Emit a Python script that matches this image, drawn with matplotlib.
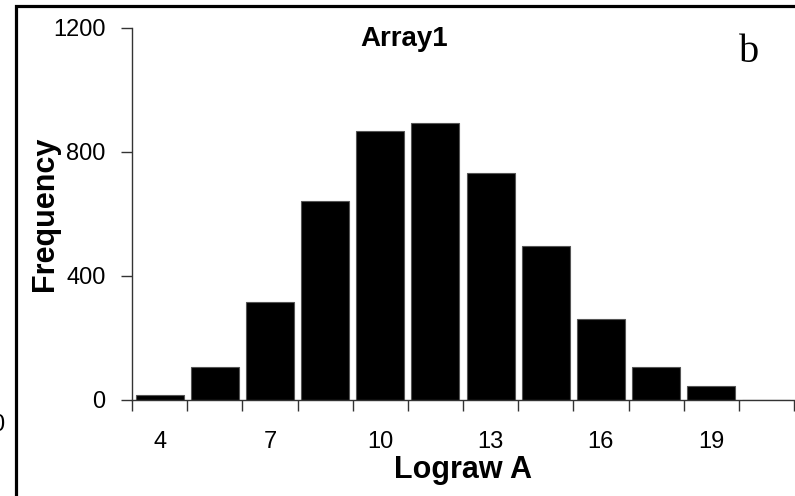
import matplotlib
matplotlib.use("Agg")
import matplotlib.pyplot as plt
from matplotlib.patches import Rectangle

categories = ["4", "5.5", "7", "8.5", "10", "11.5", "13", "14.5", "16", "17.5", "19", "20.5"]
frequency = [16, 107, 317, 643, 869, 895, 733, 497, 261, 107, 45, 0]
tick_labels = ["4", "", "7", "", "10", "", "13", "", "16", "", "19", ""]
yticks = [0, 400, 800, 1200]

plt.rcParams['font.family'] = ['Liberation Sans', 'DejaVu Sans']

W, H = 795, 496
fig = plt.figure(figsize=(W / 100, H / 100), dpi=100)
ax = fig.add_axes([132 / W, 1 - 400 / H, (794 - 132) / W, (400 - 28) / H])

x = list(range(len(categories)))
ax.bar(x, frequency, width=0.87, color='black', edgecolor='#555555', linewidth=0.8)
ax.set_xlim(-0.5, len(categories) - 0.5)
ax.set_ylim(0, 1200)

ax.set_xticks([i - 0.5 for i in range(len(categories) + 1)])
ax.set_xticklabels([])
ax.set_xticks(x, minor=True)
ax.set_xticklabels(tick_labels, minor=True)
ax.tick_params(axis='x', which='major', direction='out', length=8, width=1, color='#333333')
ax.tick_params(axis='x', which='minor', length=0, pad=22, labelsize=17)

ax.set_yticks(yticks)
ax.set_yticklabels([str(v) for v in yticks])
ax.tick_params(axis='y', direction='out', length=8, width=1, color='#333333', labelsize=17, pad=11)

for s in ['top', 'right']:
    ax.spines[s].set_visible(False)
for s in ['left', 'bottom']:
    ax.spines[s].set_color('#333333')
    ax.spines[s].set_linewidth(1)

ax.set_xlabel("Lograw A", fontsize=22, fontweight='bold')
ax.xaxis.set_label_coords(0.5, -0.148)
ax.set_ylabel("Frequency", fontsize=22, fontweight='bold')
ax.yaxis.set_label_coords(-0.109, 0.5)

fig.text(404 / W, 1 - 46 / H, "Array1", fontsize=20, fontweight='bold', ha='center', va='baseline')
fig.text(749 / W, 1 - 62 / H, "b", fontsize=29, family=['Liberation Serif'], ha='center', va='baseline')
fig.text(4 / W, 1 - 425 / H, "0", fontsize=17, ha='right', va='center')

fig.patches.append(Rectangle((16 / W, -0.05), 1.1, 1 - 5.5 / H + 0.05, transform=fig.transFigure,
                             fill=False, edgecolor='black', linewidth=2.3, figure=fig))

fig.savefig("out.png", dpi=100)
